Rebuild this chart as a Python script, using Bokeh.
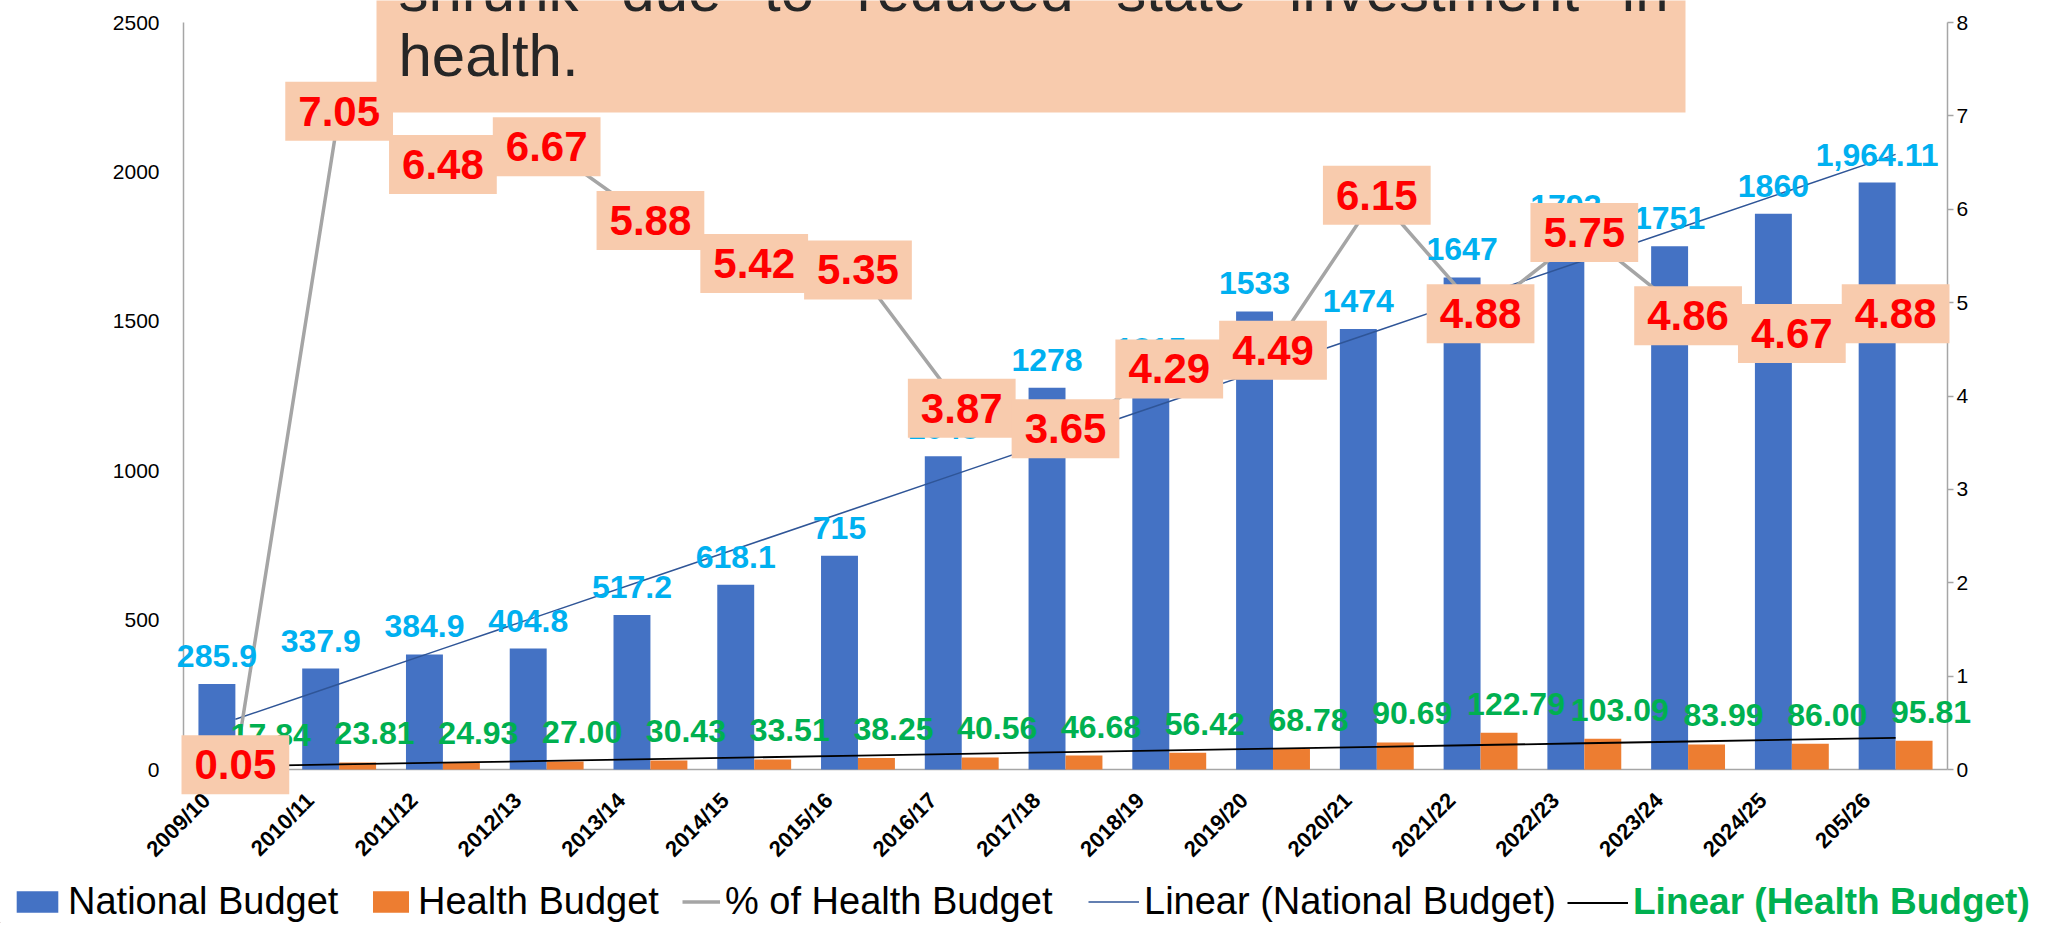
import numpy as np
from bokeh.plotting import figure
from bokeh.layouts import column
from bokeh.models import (ColumnDataSource, Range1d, LinearAxis, FixedTicker, LabelSet, Label,
                          Legend, LegendItem, BoxAnnotation)
from bokeh.core.properties import value
from bokeh.embed import file_html
from bokeh.resources import INLINE
import math

# ---------------- data ----------------
categories = ["2009/10", "2010/11", "2011/12", "2012/13", "2013/14", "2014/15", "2015/16",
              "2016/17", "2017/18", "2018/19", "2019/20", "2020/21", "2021/22", "2022/23",
              "2023/24", "2024/25", "205/26"]
national_budget = [285.9, 337.9, 384.9, 404.8, 517.2, 618.1, 715.0, 1048.0, 1278.0, 1315.0,
                   1533.0, 1474.0, 1647.0, 1793.0, 1751.0, 1860.0, 1964.11]
national_labels = ["285.9", "337.9", "384.9", "404.8", "517.2", "618.1", "715", "1048", "1278",
                   "1315", "1533", "1474", "1647", "1793", "1751", "1860", "1,964.11"]
health_budget = [17.84, 23.81, 24.93, 27.00, 30.43, 33.51, 38.25, 40.56, 46.68, 56.42, 68.78,
                 90.69, 122.79, 103.09, 83.99, 86.00, 95.81]
health_share_pct = [0.05, 7.05, 6.48, 6.67, 5.88, 5.42, 5.35, 3.87, 3.65, 4.29, 4.49, 6.15,
                    4.88, 5.75, 4.86, 4.67, 4.88]
left_ticks = [0, 500, 1000, 1500, 2000, 2500]
right_ticks = [0, 1, 2, 3, 4, 5, 6, 7, 8]
note_lines = ["shrunk due to reduced state investment in", "health."]
legend_labels = ["National Budget", "Health Budget", "% of Health Budget",
                 "Linear (National Budget)", "Linear (Health Budget)"]

# ---------------- layout / styles ----------------
FONT = "Liberation Sans"
BLUE = "#4472C4"
ORANGE = "#ED7D31"
GRAY = "#A5A5A5"
AXIS_GRAY = "#A6A6A6"
PEACH = "#F8CBAD"
W = 2032
MAIN_H, LEG_H = 877, 46
FRAME_L, FRAME_R = 90, 1975        # drawing frame (wider than the plot area)
PX_LEFT, PX_RIGHT = 183, 1947      # plot area left / right (pixels)
PX_TOP, PX_ZERO = 22, 769          # pixel rows of the axis maxima and of zero
Y_MAX, P_MAX = 2500, 8
BAR_W = 0.356
OFF = BAR_W / 2

n = len(categories)
xs = np.arange(n)

s = (PX_RIGHT - PX_LEFT) / n
x_range = Range1d(-0.5 - (PX_LEFT - FRAME_L) / s, n - 0.5 + (FRAME_R - PX_RIGHT) / s)
upp = Y_MAX / (PX_ZERO - PX_TOP)
ppp = P_MAX / (PX_ZERO - PX_TOP)
y_range = Range1d(-(MAIN_H - PX_ZERO) * upp, Y_MAX + PX_TOP * upp)
pct_range = Range1d(-(MAIN_H - PX_ZERO) * ppp, P_MAX + PX_TOP * ppp)

p = figure(width=W, height=MAIN_H, x_range=x_range, y_range=y_range,
           output_backend="svg", toolbar_location=None, x_axis_location=None,
           min_border_left=FRAME_L, min_border_right=W - FRAME_R,
           min_border_top=0, min_border_bottom=0,
           background_fill_color="white", border_fill_color="white")
p.frame_align = False
p.outline_line_color = None
p.xgrid.visible = False
p.ygrid.visible = False
p.extra_y_ranges = {"pct": pct_range}

ya = p.yaxis[0]
ya.ticker = FixedTicker(ticks=left_ticks)
ya.bounds = (0, Y_MAX)
ya.fixed_location = -0.5
ya.major_label_text_font = FONT
ya.major_label_text_font_size = "21px"
ya.major_label_text_color = "black"
ya.major_tick_line_color = None
ya.minor_tick_line_color = None
ya.axis_line_color = AXIS_GRAY
ya.axis_line_width = 1.5
ya.major_label_standoff = 18

ra = LinearAxis(y_range_name="pct", ticker=FixedTicker(ticks=right_ticks), bounds=(0, P_MAX),
                fixed_location=n - 0.5)
ra.major_label_text_font = FONT
ra.major_label_text_font_size = "21px"
ra.major_label_text_color = "black"
ra.major_tick_line_color = AXIS_GRAY
ra.major_tick_line_width = 1.5
ra.major_tick_in = 0
ra.major_tick_out = 6
ra.minor_tick_line_color = None
ra.axis_line_color = AXIS_GRAY
ra.axis_line_width = 1.5
ra.major_label_standoff = 3
p.add_layout(ra, "right")

# category axis line and rotated category labels
p.segment(x0=[-0.5], y0=[0], x1=[n - 0.5], y1=[0], line_color=AXIS_GRAY, line_width=1.5)
cat_src = ColumnDataSource(dict(x=xs, y=[0] * n, t=categories))
p.add_layout(LabelSet(x="x", y="y", text="t", source=cat_src, angle=math.pi / 4,
                      text_align="right", text_baseline="middle", x_offset=-29, y_offset=-27,
                      text_font=value(FONT), text_font_size="22px", text_font_style="bold",
                      text_color="black"))

# bars
p.vbar(x=xs - OFF, top=national_budget, width=BAR_W, fill_color=BLUE, line_color=None)
p.vbar(x=xs + OFF, top=health_budget, width=BAR_W, fill_color=ORANGE, line_color=None)

# linear trends (least squares from the data)
a_n, b_n = np.polyfit(xs, national_budget, 1)
a_h, b_h = np.polyfit(xs, health_budget, 1)
p.line(xs, a_n * xs + b_n, line_color="#2F5597", line_width=1.5)
p.line(xs, a_h * xs + b_h, line_color="black", line_width=1.8)

# % line
p.line(xs, health_share_pct, y_range_name="pct", line_color=GRAY, line_width=3.5)

# data labels
nat_src = ColumnDataSource(dict(x=xs - OFF, y=national_budget, t=national_labels))
p.add_layout(LabelSet(x="x", y="y", text="t", source=nat_src, text_align="center",
                      text_baseline="middle", y_offset=28, text_font=value(FONT),
                      text_font_size="32px", text_font_style="bold", text_color="#00B0F0"))
hea_src = ColumnDataSource(dict(x=xs + OFF, y=health_budget,
                                t=["%.2f" % v for v in health_budget]))
p.add_layout(LabelSet(x="x", y="y", text="t", source=hea_src, text_align="center",
                      text_baseline="middle", x_offset=17, y_offset=29, text_font=value(FONT),
                      text_font_size="32px", text_font_style="bold", text_color="#00B050"))

# % labels in peach boxes
for xi, v in zip(xs, health_share_pct):
    p.add_layout(Label(x=float(xi), y=v, y_range_name="pct", text="%.2f" % v,
                       text_align="center", text_baseline="middle", text_font=FONT,
                       text_font_size="42px", text_font_style="bold", text_color="#FF0000",
                       background_fill_color=PEACH, background_fill_alpha=1.0,
                       padding=(13, 15)))

# note box at the top (screen units, relative to the frame's bottom-left corner)
p.add_layout(BoxAnnotation(left=376 - FRAME_L, right=1685 - FRAME_L, bottom=MAIN_H - 112,
                           top=MAIN_H + 20,
                           left_units="screen", right_units="screen",
                           bottom_units="screen", top_units="screen",
                           fill_color=PEACH, fill_alpha=1.0, line_color=None, level="annotation"))

# first note line, justified across the box (Liberation/Arial advance widths, em units)
ADV = dict(a=.556, b=.556, c=.5, d=.556, e=.556, f=.278, g=.556, h=.556, i=.222, j=.222, k=.5,
           l=.222, m=.833, n=.556, o=.556, p=.556, q=.556, r=.333, s=.5, t=.278, u=.556, v=.5,
           w=.722, x=.5, y=.5, z=.5)
NOTE_PX = 60
words = note_lines[0].split()
wpx = [sum(ADV.get(ch, .556) for ch in w) * NOTE_PX for w in words]
line_left, line_right = 398 - FRAME_L, 1668 - FRAME_L
gap = (line_right - line_left - sum(wpx)) / (len(words) - 1)
cx = line_left
for w, ww in zip(words, wpx):
    p.add_layout(Label(x=cx, y=MAIN_H + 10, x_units="screen", y_units="screen", text=w,
                       text_font=FONT, text_font_size="%dpx" % NOTE_PX, text_color="#262626",
                       text_baseline="middle", text_align="left"))
    cx += ww + gap
p.add_layout(Label(x=line_left, y=MAIN_H - 55, x_units="screen", y_units="screen",
                   text=note_lines[1], text_font=FONT, text_font_size="%dpx" % NOTE_PX,
                   text_color="#262626", text_baseline="middle", text_align="left"))

# ---------------- legend row ----------------
lg_fig = figure(width=W, height=LEG_H, x_range=Range1d(0, W), y_range=Range1d(0, LEG_H),
                output_backend="svg", toolbar_location=None, x_axis_location=None,
                y_axis_location=None, min_border=0, background_fill_color="white",
                border_fill_color="white")
lg_fig.frame_align = False
lg_fig.outline_line_color = None
lg_fig.grid.visible = False
# key glyphs only (their single points sit outside the visible range)
k_nat = lg_fig.vbar(x=[-100], top=[1], width=1, fill_color=BLUE, line_color=None)
k_hea = lg_fig.vbar(x=[-100], top=[1], width=1, fill_color=ORANGE, line_color=None)
k_pct = lg_fig.line(x=[-100, -99], y=[1, 1], line_color=GRAY, line_width=3.5)
k_nt = lg_fig.line(x=[-100, -99], y=[1, 1], line_color="#2F5597", line_width=1.5)
k_ht = lg_fig.line(x=[-100, -99], y=[1, 1], line_color="black", line_width=1.8)

leg_specs = [
    (k_nat, 11, 52, "38px", "normal", "black"),
    (k_hea, 368, 45, "38px", "normal", "black"),
    (k_pct, 682, 38, "38px", "normal", "black"),
    (k_nt, 1088, 51, "38px", "normal", "black"),
    (k_ht, 1567, 61, "37px", "bold", "#00B050"),
]
for (r, lx, gw, fsz, fs, fc), lab in zip(leg_specs, legend_labels):
    lg = Legend(items=[LegendItem(label=lab, renderers=[r])], location=(lx, 0),
                orientation="horizontal", border_line_color=None, background_fill_alpha=0,
                padding=0, margin=0, spacing=0, glyph_width=gw, glyph_height=27,
                label_standoff=5, label_text_font=FONT, label_text_font_size=fsz,
                label_text_font_style=fs, label_text_color=fc)
    lg_fig.add_layout(lg)

page = column(p, lg_fig, spacing=0)
open("out.html", "w").write(file_html(page, INLINE))
